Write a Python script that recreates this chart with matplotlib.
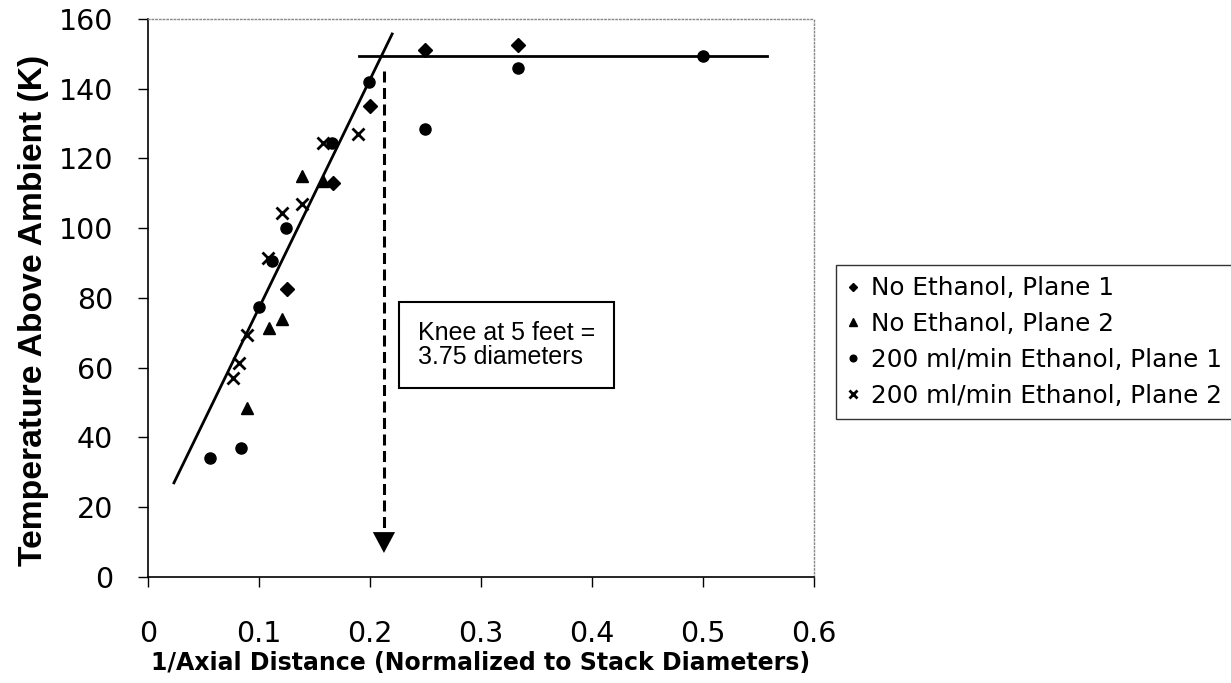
import numpy as np
import matplotlib
matplotlib.use("Agg")
import matplotlib.pyplot as plt
from matplotlib import font_manager

plt.rcParams['font.family'] = ['DejaVu Sans']

# --- Data: temperature rise vs inverse axial distance ---
x_noeth_p1 = [0.125, 0.167, 0.200, 0.250, 0.333]
y_noeth_p1 = [82.5, 113.0, 135.0, 151.0, 152.5]

x_noeth_p2 = [0.089, 0.109, 0.121, 0.139, 0.158]
y_noeth_p2 = [48.5, 71.5, 74.0, 115.0, 113.5]

x_eth_p1 = [0.056, 0.084, 0.100, 0.112, 0.124, 0.166, 0.199, 0.250, 0.333, 0.500]
y_eth_p1 = [34.0, 37.0, 77.5, 90.5, 100.0, 124.5, 142.0, 128.5, 146.0, 149.5]

x_eth_p2 = [0.077, 0.082, 0.089, 0.108, 0.121, 0.139, 0.158, 0.189]
y_eth_p2 = [57.0, 61.5, 69.5, 91.5, 104.5, 107.0, 124.5, 127.0]

# fitted lines: rising slope and plateau
slope_x = [0.0234, 0.220]
slope_y = [27.0, 155.7]
plateau_x = [0.190, 0.558]
plateau_y = [149.3, 149.3]

knee_x = 0.2126
knee_top = 145.0
knee_tip = 6.9
knee_head = 12.9

xticks = [0, 0.1, 0.2, 0.3, 0.4, 0.5, 0.6]
xticklabels = ['0', '0.1', '0.2', '0.3', '0.4', '0.5', '0.6']
yticks = [0, 20, 40, 60, 80, 100, 120, 140, 160]


def has_font(name):
    try:
        font_manager.findfont(font_manager.FontProperties(family=name), fallback_to_default=False)
        return True
    except Exception:
        return False


# tall narrow face for the y-axis title if it is around
if has_font('Liberation Sans Narrow'):
    ylab_font, ylab_size = 'Liberation Sans Narrow', 29.5
else:
    ylab_font, ylab_size = 'Liberation Sans', 24.2

fig = plt.figure(figsize=(12.31, 6.83), dpi=100)
ax = fig.add_axes([0.1202, 0.1552, 0.5410, 0.8170])

ax.plot(slope_x, slope_y, color='black', lw=2)
ax.plot(plateau_x, plateau_y, color='black', lw=2)

ax.plot(x_noeth_p1, y_noeth_p1, 'D', color='black', ms=7, ls='none', label='No Ethanol, Plane 1')
ax.plot(x_noeth_p2, y_noeth_p2, '^', color='black', ms=9, ls='none', label='No Ethanol, Plane 2')
ax.plot(x_eth_p1, y_eth_p1, 'o', color='black', ms=8, ls='none', label='200 ml/min Ethanol, Plane 1')
ax.plot(x_eth_p2, y_eth_p2, 'x', color='black', ms=9, mew=2, ls='none', label='200 ml/min Ethanol, Plane 2')

# dashed arrow marking the knee
ax.plot([knee_x, knee_x], [knee_top, knee_head], color='black', lw=2.2, ls=(0, (3.6, 1.8)))
ax.annotate('', xy=(knee_x, knee_tip), xytext=(knee_x, knee_head),
            arrowprops=dict(arrowstyle='-|>,head_length=0.75,head_width=0.4', color='black', lw=0,
                            mutation_scale=20, shrinkA=0, shrinkB=0))

ax.text(0.2432, 73.4, 'Knee at 5 feet =\n3.75 diameters', fontsize=18, va='top', ha='left',
        family='Liberation Sans', linespacing=1.02,
        bbox=dict(boxstyle='square,pad=0.75', facecolor='white', edgecolor='black', lw=1.5))

ax.set_xlim(0, 0.6)
ax.set_ylim(0, 160)
ax.set_xticks(xticks)
ax.set_xticklabels(xticklabels)
ax.set_yticks(yticks)
ax.tick_params(axis='both', labelsize=20.5, direction='out', length=7, width=1)
ax.tick_params(axis='x', pad=24)
ax.tick_params(axis='y', pad=18)

for side in ['top', 'right']:
    ax.spines[side].set_color('#888888')
    ax.spines[side].set_linestyle(':')
    ax.spines[side].set_linewidth(1)
for side in ['left', 'bottom']:
    ax.spines[side].set_linewidth(1.2)

ax.set_ylabel('Temperature Above Ambient (K)', fontsize=ylab_size, fontweight='bold', family=ylab_font)
ax.yaxis.set_label_coords(-0.149, 0.477)
ax.set_xlabel('1/Axial Distance (Normalized to Stack Diameters)', fontsize=17, fontweight='bold',
              labelpad=2)

leg = ax.legend(loc='upper left', bbox_to_anchor=(1.033, 0.559), fontsize=17.8, frameon=True,
                fancybox=False, edgecolor='black', markerscale=0.6, handlelength=0.5,
                handletextpad=0.45, borderpad=0.45, labelspacing=0.48, borderaxespad=0)
leg.get_frame().set_linewidth(1.0)

plt.savefig('out.png', dpi=100)
plt.close()
